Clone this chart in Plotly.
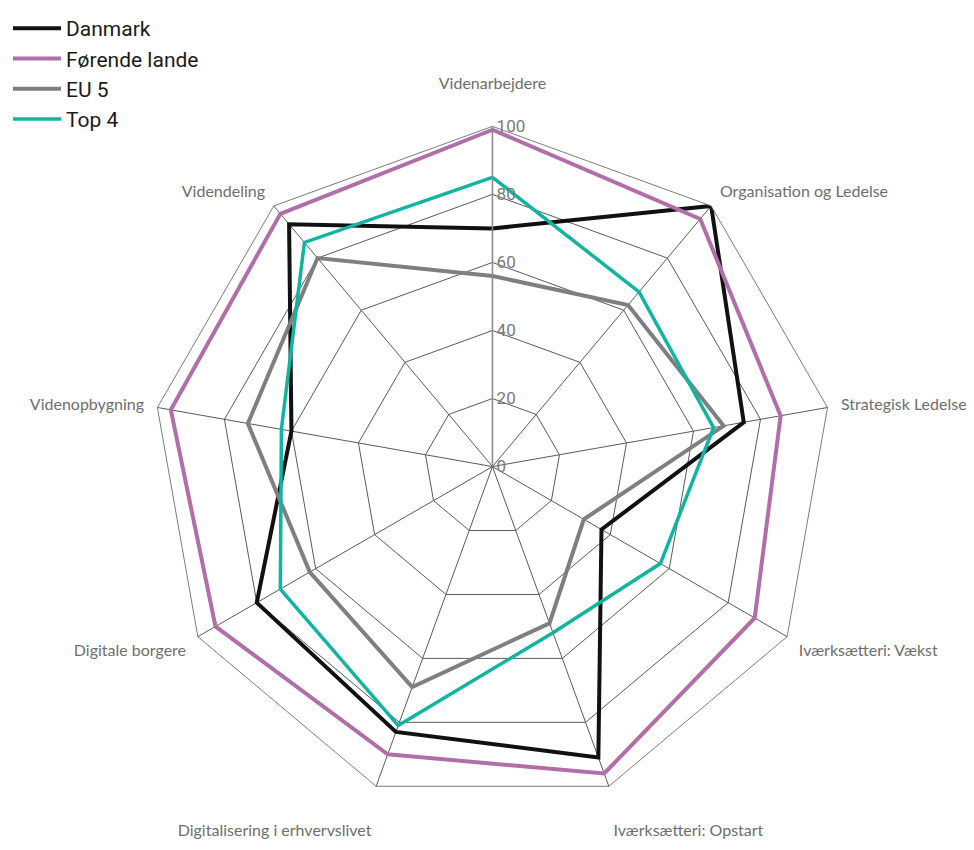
import plotly.graph_objects as go

# Spider chart categories (clockwise from the top)
categories = [
    "Videnarbejdere",
    "Organisation og Ledelse",
    "Strategisk Ledelse",
    "Iværksætteri: Vækst",
    "Iværksætteri: Opstart",
    "Digitalisering i erhvervslivet",
    "Digitale borgere",
    "Videnopbygning",
    "Videndeling",
]

# Values (0-100 scale)
danmark = [70, 100, 75, 37, 91, 83, 80, 60, 93]
foerende_lande = [99, 95, 86, 89, 96, 90, 94, 96, 97]
eu5 = [56, 62, 69, 31, 49, 69, 62, 73, 80]
top4 = [85, 67, 66, 57, 52, 81, 72, 63, 86]

radial_ticks = [0, 20, 40, 60, 80, 100]

series = [
    ("Danmark", danmark, "#111111", 4),
    ("Førende lande", foerende_lande, "#b26ea8", 4),
    ("EU 5", eu5, "#7f7f81", 4),
    ("Top 4", top4, "#10b5a0", 3.5),
]

FONT = "Lato, Roboto, sans-serif"
LEGEND_FONT = "Roboto, 'Open Sans', sans-serif"

# push the top label up and the two bottom labels down, like the original
tick_text = []
for i, c in enumerate(categories):
    if i == 0:
        tick_text.append(c + "<br> ")
    elif i in (4, 5):
        tick_text.append("<br>" + c)
    else:
        tick_text.append(c)

fig = go.Figure()

for name, values, color, width in series:
    # close the polygon
    fig.add_trace(go.Scatterpolar(
        r=values + values[:1],
        theta=categories + categories[:1],
        mode="lines",
        name=name,
        line=dict(color=color, width=width),
    ))

fig.update_layout(
    width=974,
    height=850,
    paper_bgcolor="white",
    plot_bgcolor="white",
    margin=dict(l=0, r=0, t=0, b=0),
    font=dict(family=FONT, color="#6e6e6e"),
    showlegend=True,
    legend=dict(
        x=0.0,
        y=1.0,
        xanchor="left",
        yanchor="top",
        font=dict(size=21, color="#1a1a1a", family=LEGEND_FONT),
        bgcolor="rgba(0,0,0,0)",
        tracegroupgap=0,
        itemwidth=48,
    ),
    polar=dict(
        domain=dict(x=[0.1481, 0.8467], y=[0.0596, 0.8614]),
        bgcolor="white",
        gridshape="linear",
        angularaxis=dict(
            direction="clockwise",
            rotation=90,
            tickvals=categories,
            ticktext=tick_text,
            showline=True,
            linecolor="#5a5a5a",
            linewidth=0.8,
            showgrid=True,
            gridcolor="#5a5a5a",
            gridwidth=0.8,
            ticks="outside",
            ticklen=10,
            tickcolor="rgba(0,0,0,0)",
            tickfont=dict(size=16, color="#6e6e6e", family=FONT),
        ),
        radialaxis=dict(
            range=[0, 100],
            angle=90,
            tickangle=90,
            side="clockwise",
            tickvals=radial_ticks,
            showline=True,
            linecolor="#8a8a8a",
            linewidth=1.5,
            showgrid=True,
            gridcolor="#5a5a5a",
            gridwidth=0.8,
            ticks="",
            tickfont=dict(size=17, color="#7a7a7a", family=LEGEND_FONT),
        ),
    ),
)

fig.write_html("out.html")
